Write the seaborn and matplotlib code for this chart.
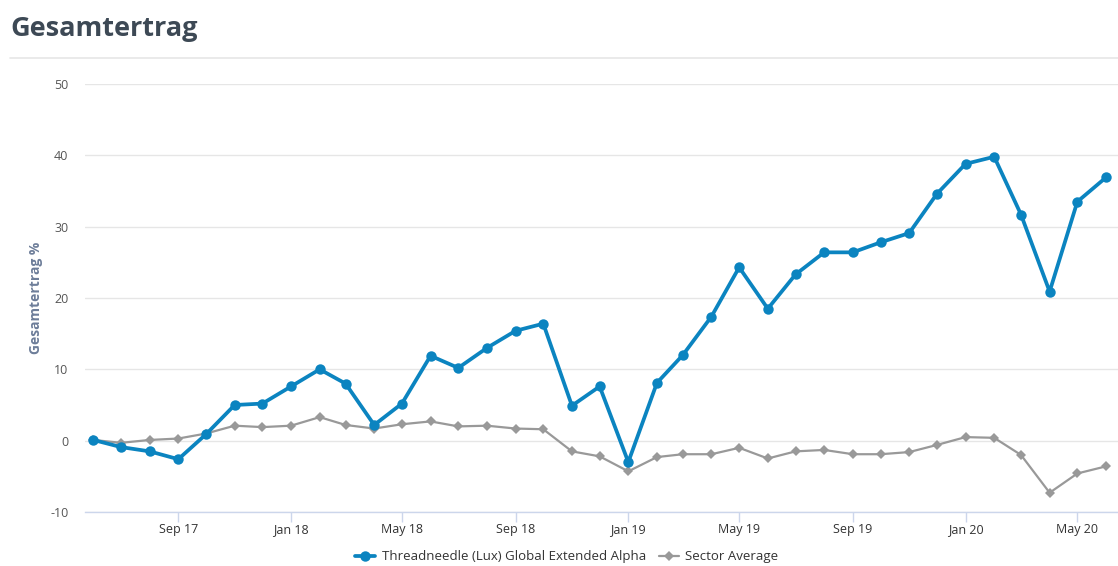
import matplotlib
matplotlib.use("Agg")
import matplotlib.pyplot as plt
import seaborn as sns
import pandas as pd
from matplotlib.lines import Line2D

months = pd.date_range("2017-06-01", "2020-06-01", freq="MS")
fund = [0.1, -0.9, -1.5, -2.6, 0.9, 5.0, 5.2, 7.6, 10.0, 8.0, 2.2, 5.2,
        11.9, 10.2, 13.0, 15.4, 16.4, 4.9, 7.6, -3.0, 8.1, 12.0, 17.4, 24.3,
        18.5, 23.3, 26.4, 26.4, 27.8, 29.1, 34.6, 38.8, 39.8, 31.7, 20.9, 33.5, 36.9]
sector = [0.1, -0.3, 0.1, 0.3, 1.0, 2.1, 1.9, 2.1, 3.3, 2.2, 1.7, 2.3,
          2.7, 2.0, 2.1, 1.7, 1.6, -1.5, -2.2, -4.3, -2.3, -1.9, -1.9, -1.0,
          -2.5, -1.5, -1.3, -1.9, -1.9, -1.6, -0.6, 0.5, 0.4, -2.0, -7.3, -4.6, -3.6]
fund_name = "Threadneedle (Lux) Global Extended Alpha"
sector_name = "Sector Average"
tick_dates = pd.to_datetime(["2017-09-01", "2018-01-01", "2018-05-01", "2018-09-01",
                             "2019-01-01", "2019-05-01", "2019-09-01", "2020-01-01", "2020-05-01"])
tick_labels = ["Sep 17", "Jan 18", "May 18", "Sep 18", "Jan 19", "May 19", "Sep 19", "Jan 20", "May 20"]
y_ticks = [-10, 0, 10, 20, 30, 40, 50]

df = pd.DataFrame({"date": months, "fund": fund, "sector": sector})

sns.set_theme(style="white")
plt.rcParams["font.family"] = ["Open Sans", "DejaVu Sans"]

BLUE = "#0b84c0"
GREY = "#999999"

fig = plt.figure(figsize=(11.18, 5.66), dpi=100)
ax = fig.add_axes([85 / 1118, 1 - 512 / 566, 1 - 85 / 1118, (512 - 84) / 566])

sns.lineplot(data=df, x="date", y="sector", ax=ax, color=GREY, linewidth=1.6,
             marker="D", markersize=5.5, markeredgewidth=0, zorder=3)
sns.lineplot(data=df, x="date", y="fund", ax=ax, color=BLUE, linewidth=2.7,
             marker="o", markersize=7.5, markeredgewidth=0, zorder=4)

ax.set_ylim(-10, 50)
ax.set_yticks(y_ticks)
ax.set_yticklabels([str(v) for v in y_ticks])
ax.set_xlim(pd.Timestamp("2017-05-23"), pd.Timestamp("2020-06-14"))
ax.set_xticks(tick_dates)
ax.set_xticklabels(tick_labels)

ax.grid(axis="y", color="#e6e6e6", linewidth=1)
ax.grid(axis="x", visible=False)
for s in ["top", "right", "left"]:
    ax.spines[s].set_visible(False)
ax.spines["bottom"].set_color("#ccd6eb")
ax.spines["bottom"].set_linewidth(1)
ax.tick_params(axis="x", which="both", length=7, width=1, color="#ccd6eb",
               labelsize=9, labelcolor="#333333", pad=1, direction="out", bottom=True)
ax.tick_params(axis="y", length=0, labelsize=9, labelcolor="#555555", pad=12)
ax.set_xlabel("")
ax.set_ylabel("Gesamtertrag %", fontsize=10, color="#6d7d99", fontweight="bold", labelpad=5)

fig.text(10 / 1118, 1 - 29 / 566, "Gesamtertrag", fontsize=19.5, fontweight="bold",
         color="#3d4955", va="center", ha="left")
fig.add_artist(Line2D([10 / 1118, 1.0], [1 - 58 / 566, 1 - 58 / 566],
                      color="#e6e6e6", linewidth=1.2, transform=fig.transFigure))

handles = [Line2D([], [], color=BLUE, linewidth=2.7, marker="o", markersize=7.5, markeredgewidth=0),
           Line2D([], [], color=GREY, linewidth=1.6, marker="D", markersize=5.5, markeredgewidth=0)]
fig.legend(handles, [fund_name, sector_name], loc="lower center",
           bbox_to_anchor=(0.507, 0.0), ncol=2, frameon=False, fontsize=9.5,
           labelcolor="#333333", handlelength=1.5, handletextpad=0.5, columnspacing=1.0,
           numpoints=1, borderpad=0.1, borderaxespad=0.1)

fig.savefig("out.png", dpi=100)
